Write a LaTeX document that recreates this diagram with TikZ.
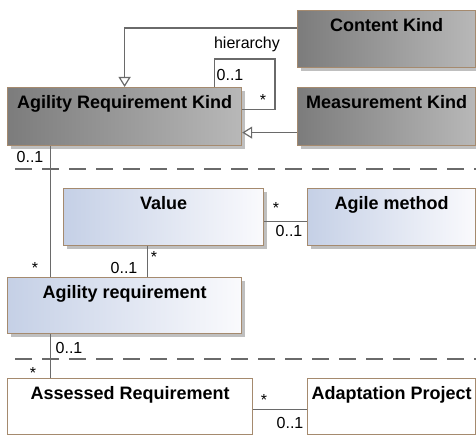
\documentclass[tikz,border=0pt]{standalone}
\usepackage{fontspec}
\setmainfont{Liberation Sans}
\usetikzlibrary{arrows.meta,shadows}

\definecolor{kindL}{HTML}{7C7C7C}
\definecolor{kindR}{HTML}{B8B8B8}
\definecolor{valL}{HTML}{C5D0E6}
\definecolor{valR}{HTML}{FAFAFD}
\definecolor{boxedge}{HTML}{A58A6E}
\definecolor{linkgray}{HTML}{6A6A6A}

\tikzset{
  classbox/.style={draw=boxedge, line width=1.2pt, rectangle, anchor=north west, inner sep=0pt},
  boxshadow/.style={drop shadow={shadow xshift=3pt, shadow yshift=-3pt, fill=black!25, opacity=1}},
  kindbox/.style={classbox, boxshadow, left color=kindL, right color=kindR},
  valuebox/.style={classbox, boxshadow, left color=valL, right color=valR},
  plainbox/.style={classbox, fill=white},
  classname/.style={font=\fontsize{18}{20}\selectfont\bfseries, inner sep=0pt, anchor=north},
  mult/.style={font=\fontsize{16}{18}\selectfont, inner sep=0pt},
  assoc/.style={draw=linkgray, line width=1.2pt},
  gen/.style={assoc, -{Triangle[open, length=10pt, width=12pt]}},
  separator/.style={draw=linkgray, line width=1.2pt, dash pattern=on 17pt off 10pt}
}

\begin{document}
\begin{tikzpicture}[x=1pt, y=-1pt]
		\useasboundingbox (0,0) rectangle (476,435);
		
		% kinds
		\node[kindbox, minimum width=178, minimum height=57] (content) at (297,10) {};
		\node[kindbox, minimum width=234, minimum height=58] (ark) at (7,87) {};
		\node[kindbox, minimum width=178, minimum height=58] (meas) at (297,87) {};
		\node[classname] (contentT) at ([yshift=-8pt]content.north) {Content Kind};
		\node[classname] (arkT) at ([yshift=-8pt]ark.north) {Agility Requirement Kind};
		\node[classname] (measT) at ([yshift=-8pt]meas.north) {Measurement Kind};
		
		% values
		\node[valuebox, minimum width=200, minimum height=57] (value) at (63,188) {};
		\node[valuebox, minimum width=168, minimum height=57] (agile) at (307,188) {};
		\node[valuebox, minimum width=234, minimum height=56] (agreq) at (7,277) {};
		\node[classname] (valueT) at ([yshift=-8pt]value.north) {Value};
		\node[classname] (agileT) at ([yshift=-8pt]agile.north) {Agile method};
		\node[classname] (agreqT) at ([yshift=-8pt]agreq.north) {Agility requirement};
		
		% project level
		\node[plainbox, minimum width=245, minimum height=56] (assessed) at (7,378) {};
		\node[plainbox, minimum width=168, minimum height=56] (adapt) at (307,378) {};
		\node[classname] (assessedT) at ([yshift=-8pt]assessed.north) {Assessed Requirement};
		\node[classname] (adaptT) at ([yshift=-8pt]adapt.north) {Adaptation Project};
		
		% separators
		\draw[separator] (15,169) -- (476,169);
		\draw[separator] (15,359) -- (476,359);
		
		% generalizations
		\draw[gen] ([yshift=11pt]content.west) -| (ark.north);
		\draw[gen] ([yshift=-16pt]meas.west) -- ([yshift=-16pt]ark.east);
		
		% hierarchy
		\coordinate (hierC) at (275,59);
		\draw[assoc] ([xshift=90pt]ark.north) |- (hierC) |- ([yshift=7pt]ark.east);
		\node[mult] (hierL) at (247,44) {hierarchy};
		\node[mult] (hierM1) at (230,75) {0..1};
		\node[mult] (hierM2) at (263,100) {*};
		
		% associations
		\draw[assoc] ([xshift=-74pt]ark.south) -- ([xshift=-74pt]agreq.north);
		\node[mult] (arkM1) at (30,157) {0..1};
		\node[mult] (arkM2) at (35,268) {*};
		
		\draw[assoc] ([yshift=-4.5pt]value.east) -- ([yshift=-4.5pt]agile.west);
		\node[mult] (valM1) at (276,208) {*};
		\node[mult] (valM2) at (289,231) {0..1};
		
		\draw[assoc] ([xshift=-16pt]value.south) -- ([xshift=-16pt]value.south |- agreq.north);
		\node[mult] (reqM1) at (154,257) {*};
		\node[mult] (reqM2) at (124,268) {0..1};
		
		\draw[assoc] ([xshift=-74pt]agreq.south) -- ([xshift=-74pt]agreq.south |- assessed.north);
		\node[mult] (assM1) at (69,348) {0..1};
		\node[mult] (assM2) at (33,373) {*};
		
		\draw[assoc] ([yshift=-3pt]assessed.east) -- ([yshift=-3pt]adapt.west);
		\node[mult] (prjM1) at (264,400) {*};
		\node[mult] (prjM2) at (290,423) {0..1};
	\end{tikzpicture}
\end{document}
